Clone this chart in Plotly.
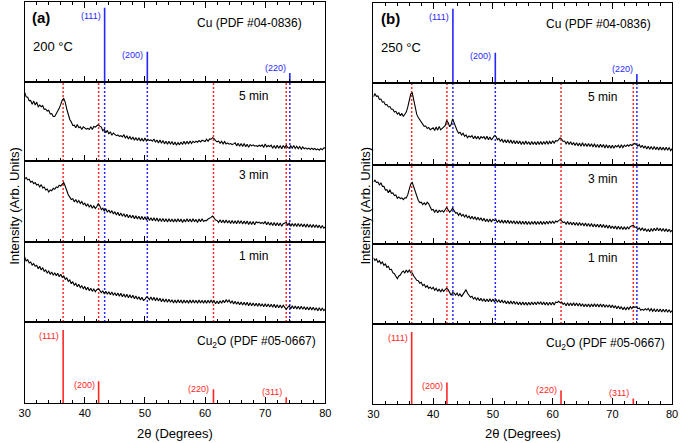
import plotly.graph_objects as go

# ---------------- data ----------------
two_theta = [30 + 0.25 * i for i in range(201)]

a_5min = [208, 195, 194, 183, 184, 172, 182, 170, 179, 165, 170, 165, 168, 157, 158, 152, 154, 143, 144, 135,
          135, 142, 149, 160, 172, 185, 190, 178, 158, 140, 126, 119, 108, 109, 101, 111, 101, 104, 96, 104,
          101, 97, 99, 96, 104, 96, 105, 103, 107, 110, 106, 103, 92, 96, 86, 93, 82, 89, 78, 85,
          81, 77, 79, 75, 77, 73, 80, 69, 77, 67, 74, 65, 73, 63, 71, 62, 71, 61, 68, 60,
          70, 61, 66, 62, 64, 60, 67, 57, 64, 55, 64, 54, 62, 52, 60, 51, 60, 51, 59, 49,
          58, 48, 56, 49, 58, 50, 60, 51, 60, 52, 61, 53, 60, 56, 60, 57, 62, 58, 63, 60,
          59, 66, 60, 67, 66, 71, 68, 62, 58, 61, 54, 60, 52, 59, 52, 55, 51, 53, 50, 52,
          55, 46, 54, 45, 53, 44, 53, 43, 51, 42, 50, 46, 49, 45, 47, 44, 48, 45, 49, 41,
          52, 43, 47, 44, 48, 39, 47, 38, 48, 39, 46, 37, 47, 40, 48, 41, 39, 46, 39, 47,
          38, 45, 37, 44, 36, 43, 37, 40, 36, 39, 35, 39, 35, 38, 34, 37, 33, 38, 34, 40,
          39]

a_3min = [187, 191, 184, 186, 177, 180, 173, 176, 169, 171, 163, 170, 160, 163, 154, 157, 148, 154, 152, 159,
          156, 163, 161, 168, 166, 172, 176, 165, 150, 140, 133, 126, 128, 119, 126, 117, 123, 114, 120, 111,
          115, 106, 113, 103, 110, 100, 107, 99, 105, 114, 107, 96, 100, 91, 99, 88, 95, 86, 93, 83,
          90, 80, 88, 78, 86, 76, 84, 74, 82, 72, 80, 71, 79, 69, 78, 68, 76, 67, 76, 66,
          75, 65, 74, 64, 72, 63, 72, 62, 71, 61, 70, 61, 70, 60, 69, 59, 69, 60, 68, 59,
          68, 59, 69, 60, 68, 58, 67, 59, 69, 60, 68, 59, 69, 60, 67, 58, 68, 60, 69, 61,
          64, 63, 68, 70, 73, 77, 72, 65, 64, 58, 66, 57, 65, 56, 65, 56, 64, 55, 64, 55,
          63, 54, 64, 55, 63, 53, 62, 53, 62, 52, 61, 52, 61, 51, 60, 57, 59, 55, 58, 54,
          61, 51, 59, 50, 58, 49, 58, 48, 57, 48, 56, 47, 54, 56, 58, 50, 56, 47, 55, 47,
          55, 46, 55, 46, 54, 45, 53, 44, 53, 44, 52, 43, 52, 43, 51, 42, 50, 41, 49, 41,
          45]

a_1min = [195, 183, 187, 177, 180, 171, 175, 167, 170, 160, 167, 156, 163, 152, 156, 147, 153, 143, 150, 140,
          148, 139, 146, 136, 143, 134, 138, 128, 132, 122, 126, 115, 121, 110, 116, 106, 113, 103, 109, 100,
          106, 96, 104, 94, 101, 92, 99, 91, 97, 100, 95, 88, 93, 84, 92, 83, 91, 82, 90, 80,
          88, 79, 87, 77, 86, 76, 84, 74, 83, 73, 82, 72, 80, 70, 78, 68, 76, 66, 74, 65,
          68, 75, 73, 67, 75, 65, 74, 64, 73, 63, 71, 61, 70, 60, 69, 59, 68, 59, 67, 57,
          66, 57, 67, 58, 66, 56, 66, 57, 65, 56, 66, 57, 66, 57, 65, 56, 66, 57, 65, 56,
          65, 56, 65, 57, 66, 58, 64, 55, 63, 55, 64, 56, 65, 58, 67, 60, 66, 56, 64, 54,
          62, 53, 61, 52, 60, 51, 59, 50, 59, 49, 58, 49, 57, 48, 56, 47, 56, 47, 55, 46,
          55, 46, 54, 45, 53, 44, 53, 43, 52, 43, 51, 42, 50, 42, 38, 44, 49, 40, 49, 40,
          48, 39, 47, 38, 47, 38, 46, 37, 45, 36, 45, 36, 44, 35, 43, 34, 43, 34, 42, 34,
          39]

b_5min = [200, 208, 201, 202, 192, 193, 184, 185, 176, 177, 170, 171, 163, 163, 155, 157, 149, 153, 144, 151,
          142, 149, 155, 170, 190, 208, 211, 190, 163, 148, 139, 132, 123, 120, 113, 114, 107, 110, 103, 106,
          109, 101, 111, 102, 113, 103, 108, 111, 115, 130, 124, 112, 118, 135, 124, 108, 101, 93, 96, 88,
          93, 84, 88, 80, 85, 82, 86, 77, 85, 76, 84, 75, 83, 79, 83, 75, 84, 74, 82, 73,
          81, 86, 84, 74, 78, 69, 76, 66, 74, 65, 74, 64, 73, 63, 72, 62, 71, 62, 70, 60,
          69, 60, 70, 61, 68, 59, 69, 60, 68, 59, 69, 60, 69, 60, 69, 61, 70, 61, 69, 62,
          71, 64, 71, 70, 74, 79, 76, 69, 70, 62, 69, 60, 68, 59, 66, 57, 65, 56, 64, 55,
          65, 55, 63, 54, 63, 54, 62, 53, 62, 52, 60, 51, 61, 52, 60, 50, 59, 50, 58, 49,
          58, 49, 57, 53, 58, 50, 59, 51, 58, 54, 59, 55, 60, 57, 60, 63, 60, 55, 60, 51,
          58, 49, 56, 47, 55, 46, 54, 45, 54, 45, 53, 44, 53, 44, 52, 43, 52, 43, 51, 42,
          48]

b_3min = [189, 194, 187, 188, 179, 186, 175, 175, 164, 165, 156, 165, 154, 155, 147, 149, 139, 143, 138, 140,
          135, 140, 140, 150, 167, 182, 187, 172, 157, 142, 133, 126, 127, 120, 125, 119, 127, 122, 113, 103,
          105, 97, 104, 95, 102, 98, 102, 97, 104, 111, 104, 97, 101, 109, 102, 94, 95, 87, 94, 85,
          90, 82, 89, 79, 86, 76, 84, 75, 83, 73, 81, 72, 80, 70, 78, 68, 76, 67, 76, 67,
          75, 71, 74, 65, 73, 64, 73, 63, 72, 63, 72, 62, 71, 62, 71, 61, 70, 61, 70, 60,
          69, 60, 69, 59, 68, 59, 68, 60, 69, 59, 68, 60, 69, 59, 68, 60, 69, 61, 70, 62,
          70, 62, 70, 67, 71, 74, 70, 65, 67, 60, 68, 59, 67, 58, 66, 57, 65, 56, 65, 56,
          64, 55, 64, 54, 62, 53, 62, 52, 61, 52, 60, 51, 60, 50, 59, 49, 58, 48, 57, 47,
          55, 46, 55, 45, 54, 45, 53, 44, 52, 44, 52, 46, 53, 56, 57, 51, 51, 44, 49, 42,
          49, 40, 47, 38, 45, 37, 47, 39, 48, 40, 49, 40, 48, 39, 47, 38, 46, 37, 45, 37,
          42]

b_1min = [199, 191, 195, 185, 190, 181, 186, 176, 180, 170, 173, 163, 164, 154, 151, 142, 136, 144, 147, 155,
          159, 153, 162, 155, 162, 154, 153, 144, 139, 131, 130, 122, 125, 115, 119, 110, 115, 107, 111, 105,
          110, 101, 107, 98, 105, 96, 104, 98, 103, 107, 103, 93, 86, 94, 93, 87, 93, 84, 91, 82,
          88, 95, 103, 92, 85, 80, 83, 75, 80, 72, 79, 70, 77, 68, 76, 67, 75, 67, 76, 67,
          75, 66, 74, 65, 73, 64, 72, 63, 70, 61, 69, 60, 69, 60, 68, 59, 67, 58, 66, 57,
          66, 57, 65, 56, 65, 57, 66, 58, 66, 58, 67, 59, 67, 58, 66, 57, 65, 56, 65, 57,
          65, 57, 66, 64, 68, 64, 66, 59, 63, 55, 64, 55, 63, 55, 64, 55, 63, 54, 62, 53,
          61, 52, 60, 52, 60, 51, 60, 52, 61, 52, 60, 51, 60, 51, 59, 50, 58, 50, 58, 49,
          57, 48, 55, 46, 54, 45, 52, 43, 50, 42, 51, 44, 52, 46, 52, 50, 52, 46, 48, 41,
          44, 41, 46, 42, 47, 39, 46, 38, 45, 37, 45, 37, 45, 36, 44, 36, 44, 35, 43, 35,
          40]

cu_pos = [43.3, 50.4, 74.1]
cu_int = [100, 46, 20]
cu_hkl = ["(111)", "(200)", "(220)"]

cu2o_pos = [36.4, 42.3, 61.4, 73.5]
cu2o_int = [100, 37, 27, 17]
cu2o_hkl = ["(111)", "(200)", "(220)", "(311)"]

times = ["5 min", "3 min", "1 min"]
temps = ["200 °C", "250 °C"]
tags = ["(a)", "(b)"]
curves = [[a_5min, a_3min, a_1min], [b_5min, b_3min, b_1min]]

for arr in curves[0] + curves[1]:
    assert len(arr) == len(two_theta), len(arr)

# ---------------- styling / layout ----------------
W, H = 685, 443
FONT = "Arial, 'Liberation Sans', sans-serif"
RED = "#ff2626"
BLUE = "#2626ff"

panel_x = [(19, 325), (374, 678)]
panel_rows = [[(2, 82), (82, 161), (161, 242), (242, 322), (322, 403)],
              [(3, 83), (83, 165), (165, 244), (244, 324), (324, 404)]]
ytitle_x = [9, 366]


def px(x):
    return x / W


def py(y):
    return 1 - y / H


fig = go.Figure()
layout = dict(width=W, height=H, margin=dict(l=0, r=0, t=0, b=0),
              paper_bgcolor="white", plot_bgcolor="white", showlegend=False,
              font=dict(family=FONT, color="black"))
annotations = []
shapes = []

cu_yshift = [-8, -3, 5]
cu2o_yshift = [-6, -4, 0, 5]


def dom_text(xr, yr, fx, fy, text, size, color="black"):
    return dict(x=fx, y=fy, xref=f"{xr} domain", yref=f"{yr} domain", text=text,
                showarrow=False, xanchor="center", yanchor="middle",
                font=dict(size=size, family=FONT, color=color))


for p in range(2):
    x0, x1 = panel_x[p]
    for r in range(5):
        n = p * 5 + r + 1
        top, bot = panel_rows[p][r]
        xname = "xaxis" if n == 1 else f"xaxis{n}"
        yname = "yaxis" if n == 1 else f"yaxis{n}"
        xr = "x" if n == 1 else f"x{n}"
        yr = "y" if n == 1 else f"y{n}"
        if r == 0:
            yrange = [9, 107]
        elif r == 4:
            yrange = [10, 110]
        else:
            yrange = [0, 240]
        layout[xname] = dict(domain=[px(x0), px(x1)], range=[30, 80], anchor=yr,
                             showline=True, linecolor="black", linewidth=1,
                             mirror="ticks" if r == 0 else True,
                             ticks="inside", ticklen=6, tickwidth=1, tickcolor="black",
                             tick0=30, dtick=10, showticklabels=(r == 4),
                             tickfont=dict(size=11, family=FONT, color="black"),
                             minor=dict(dtick=2, tick0=30, ticks="inside", ticklen=3,
                                        tickcolor="black", showgrid=False),
                             showgrid=False, zeroline=False, fixedrange=True)
        layout[yname] = dict(domain=[py(bot), py(top)], range=yrange, anchor=xr,
                             showline=True, linecolor="black", linewidth=1, mirror=True,
                             ticks="", showticklabels=False, showgrid=False,
                             zeroline=False, fixedrange=True)
        pw = x1 - x0
        ph = bot - top
        if r == 0:
            xs, ys = [], []
            for pos, inten in zip(cu_pos, cu_int):
                xs += [pos, pos, None]
                ys += [0, inten, None]
            fig.add_trace(go.Scatter(x=xs, y=ys, mode="lines", xaxis=xr, yaxis=yr,
                                     line=dict(color=BLUE, width=1.6), hoverinfo="skip"))
            for pos, inten, hkl, ys_ in zip(cu_pos, cu_int, cu_hkl, cu_yshift):
                annotations.append(dict(x=pos, y=inten, xref=xr, yref=yr, text=hkl,
                                        showarrow=False, xanchor="right", yanchor="middle",
                                        xshift=-2, yshift=ys_,
                                        font=dict(size=9, color=BLUE, family=FONT)))
            annotations.append(dom_text(xr, yr, 17 / pw, 1 - 15 / ph, f"<b>{tags[p]}</b>", 15))
            annotations.append(dom_text(xr, yr, 28.5 / pw, 1 - 44 / ph, temps[p], 13))
            annotations.append(dom_text(xr, yr, 229 / pw, 1 - 21 / ph, "Cu (PDF #04-0836)", 12))
        elif r == 4:
            xs, ys = [], []
            for pos, inten in zip(cu2o_pos, cu2o_int):
                xs += [pos, pos, None]
                ys += [0, inten, None]
            fig.add_trace(go.Scatter(x=xs, y=ys, mode="lines", xaxis=xr, yaxis=yr,
                                     line=dict(color=RED, width=1.6), hoverinfo="skip"))
            for pos, inten, hkl, ys_ in zip(cu2o_pos, cu2o_int, cu2o_hkl, cu2o_yshift):
                annotations.append(dict(x=pos, y=inten, xref=xr, yref=yr, text=hkl,
                                        showarrow=False, xanchor="right", yanchor="middle",
                                        xshift=-2, yshift=ys_,
                                        font=dict(size=9, color=RED, family=FONT)))
            annotations.append(dom_text(xr, yr, 236 / pw, 1 - 20 / ph,
                                        "Cu<sub>2</sub>O (PDF #05-0667)", 12))
        else:
            for pos in cu2o_pos:
                shapes.append(dict(type="line", xref=xr, yref=f"{yr} domain", x0=pos, x1=pos,
                                   y0=0, y1=1, layer="below",
                                   line=dict(color=RED, width=1.5, dash="2px,2px")))
            for pos in cu_pos:
                shapes.append(dict(type="line", xref=xr, yref=f"{yr} domain", x0=pos, x1=pos,
                                   y0=0, y1=1, layer="below",
                                   line=dict(color=BLUE, width=1.5, dash="2px,2px")))
            fig.add_trace(go.Scatter(x=two_theta, y=curves[p][r - 1], mode="lines",
                                     xaxis=xr, yaxis=yr, hoverinfo="skip",
                                     line=dict(color="black", width=1.1)))
            annotations.append(dom_text(xr, yr, 233 / pw, 1 - 14 / ph, times[r - 1], 12))
    # axis titles
    annotations.append(dict(x=px((x0 + x1) / 2), y=py(433), xref="paper", yref="paper",
                            text="2θ (Degrees)", showarrow=False,
                            xanchor="center", yanchor="middle",
                            font=dict(size=13, family=FONT, color="black")))
    annotations.append(dict(x=px(ytitle_x[p]), y=py(206), xref="paper", yref="paper",
                            text="Intensity (Arb. Units)", showarrow=False, textangle=-90,
                            xanchor="center", yanchor="middle",
                            font=dict(size=13, family=FONT, color="black")))

layout["annotations"] = annotations
layout["shapes"] = shapes
fig.update_layout(**layout)
fig.write_html("out.html", config={"displayModeBar": False, "staticPlot": True},
               post_script="document.body.style.margin='0px';document.body.style.padding='0px';")
